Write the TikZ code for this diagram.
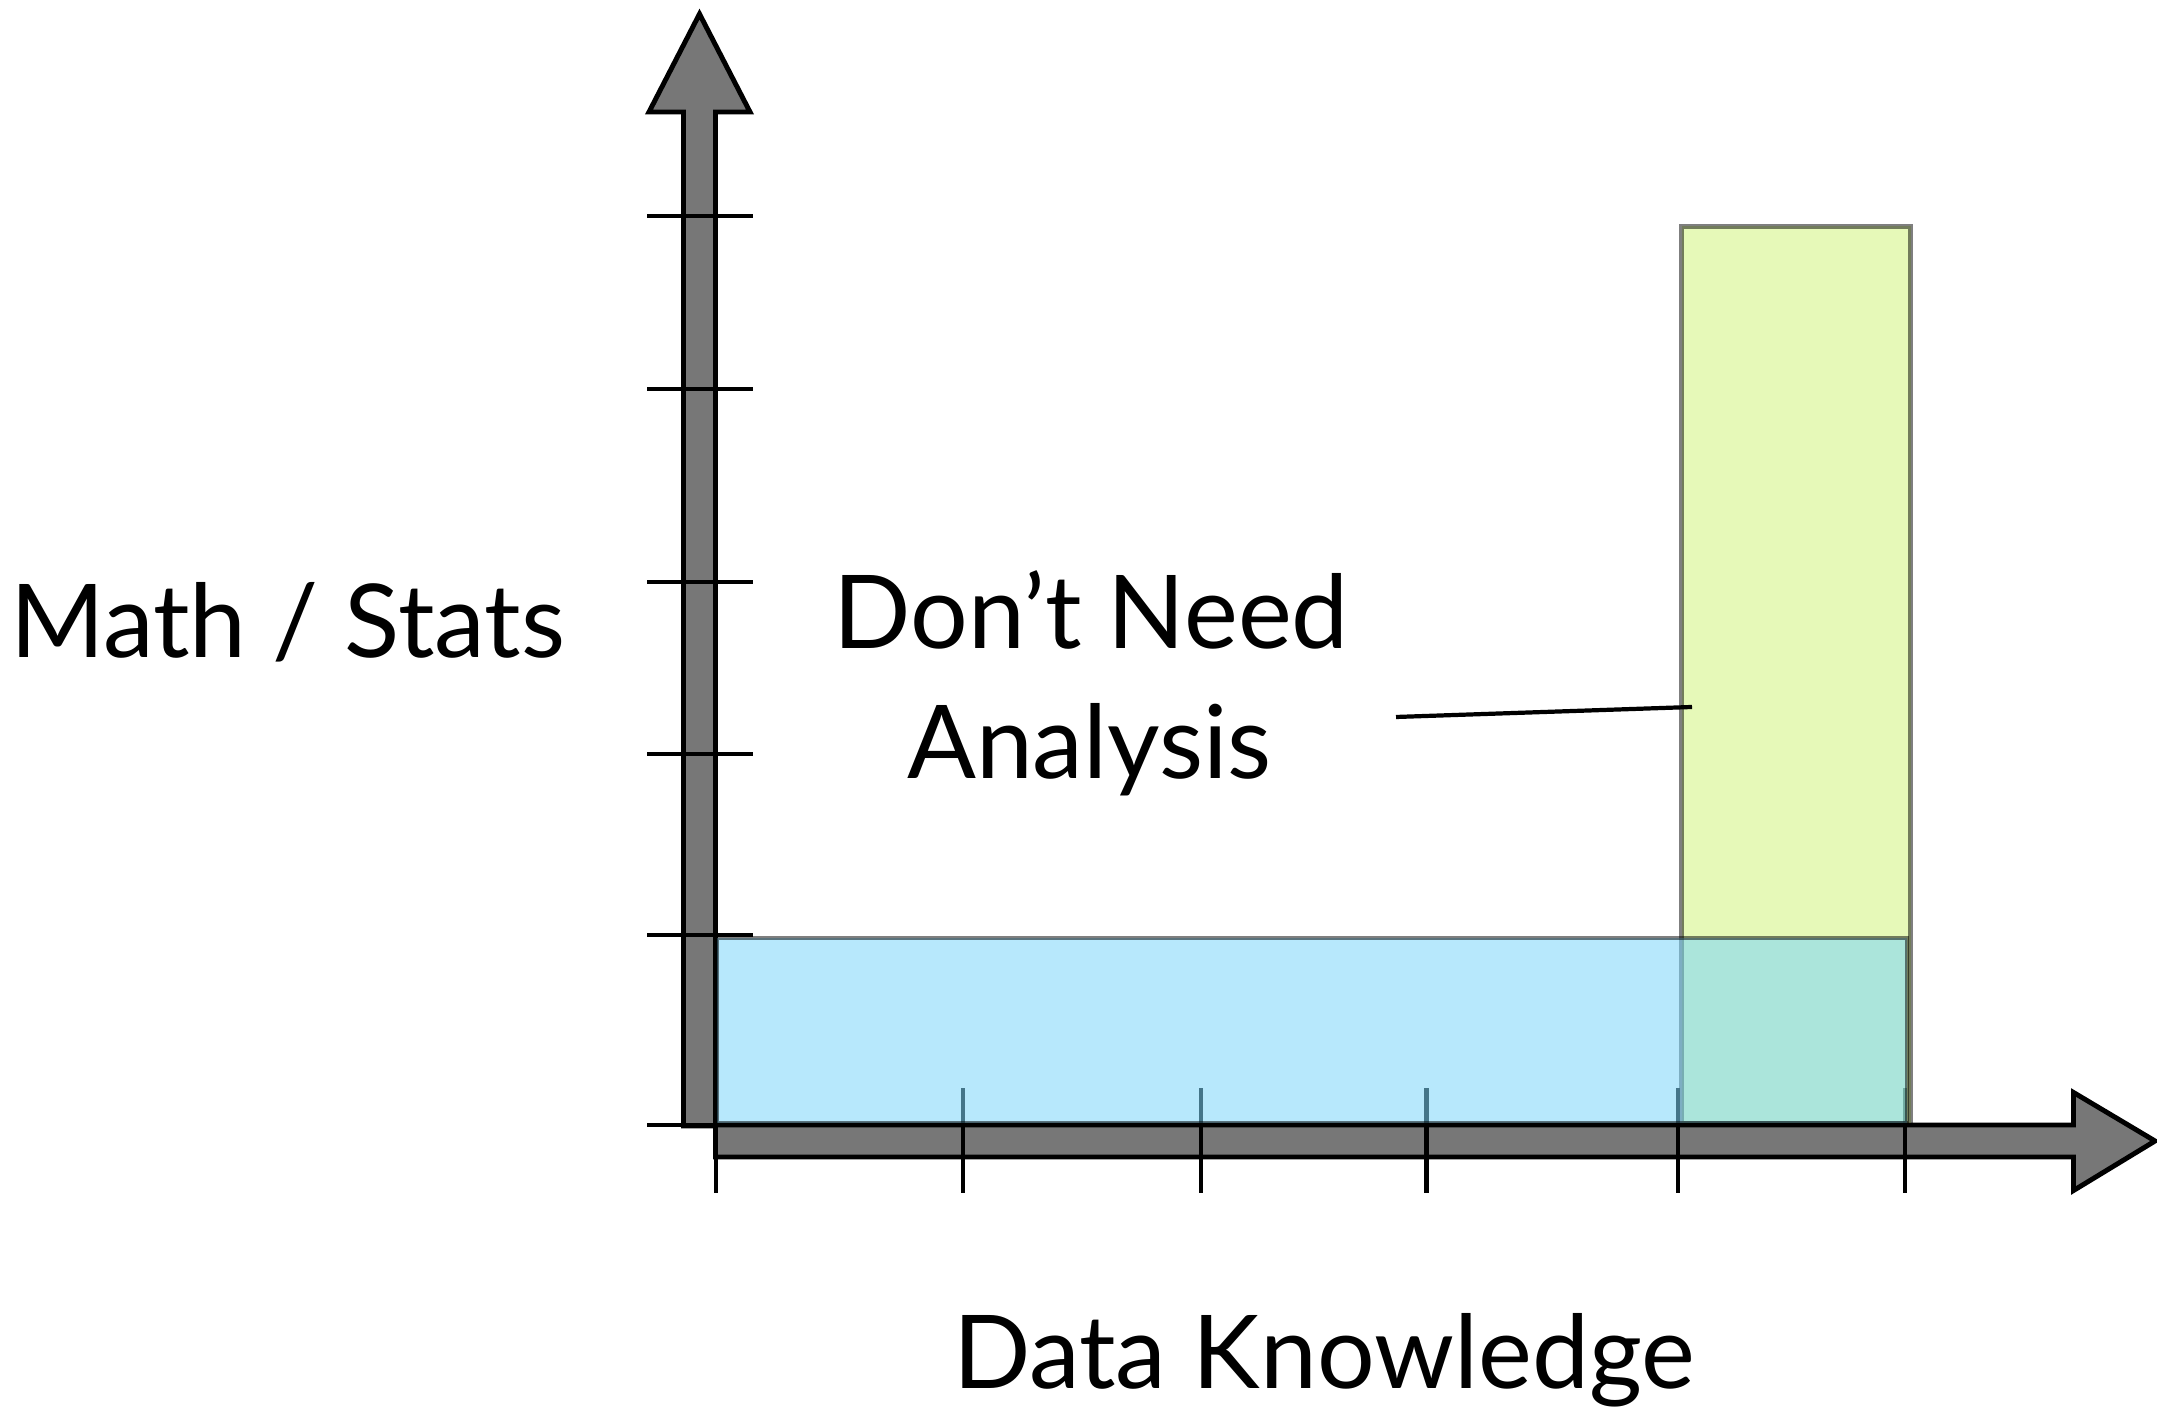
\documentclass[tikz,border=0pt]{standalone}
\usepackage{fontspec}
\setmainfont{Lato}
\usepackage{xcolor}
\usepackage{tikz}
\usetikzlibrary{arrows, shapes}
\definecolor{axisgray}{RGB}{119,119,119}
\definecolor{skyfill}{RGB}{124,214,250}
\definecolor{limefill}{RGB}{205,243,113}
\begin{document}
\begin{tikzpicture}
			\tikzstyle{every node} = [font = \fontsize{29}{35}\selectfont, anchor = base, inner sep = 0pt]
			\tikzstyle{axisarrow} = [draw, fill = axisgray, line width = 1.4pt, line join = miter]
			\tikzstyle{tick} = [draw, line width = 1.2pt]
			\tikzstyle{bar} = [draw = black, draw opacity = 0.5, line width = 1.4pt, fill opacity = 0.5]
				\useasboundingbox (0,0) rectangle (21.57,14.15);
				\path[axisarrow] (6.835,2.89)--
					(6.835,13.03)--
					(6.49,13.03)--
					(6.995,14.01)--
					(7.50,13.03)--
					(7.155,13.03)--
					(7.155,2.89)-- cycle;
				\path[axisarrow] (7.155,2.90)--
					(20.735,2.90)--
					(20.735,3.225)--
					(21.55,2.74)--
					(20.735,2.245)--
					(20.735,2.58)--
					(7.155,2.58)-- cycle;
				\foreach \y in {11.99, 10.26, 8.33, 6.61, 4.80, 2.90}
					\path[tick] (6.47,\y)-- (7.53,\y);
				\foreach \x in {7.16, 9.63, 12.01, 14.265, 16.78, 19.05}
					\path[tick] (\x,2.22)-- (\x,3.27);
				\path[bar, fill = limefill] (16.815,2.92) rectangle (19.105,11.885);
				\path[bar, fill = skyfill, fill opacity = 0.55] (7.17,2.92) rectangle (19.07,4.77);
				\node (mathstats) at (2.875,7.575) {Math / Stats};
				\node (dontneed) at (10.91,7.66) {Don’t Need};
				\node (analysis) at (10.895,6.364) {Analysis};
				\node (dataknow) at (13.24,0.26) {Data Knowledge};
				\coordinate (leadstart) at (13.96,6.98);
				\coordinate (leadend) at (16.92,7.08);
				\path[draw, line width = 1.2pt] (leadstart)-- (leadend);
		\end{tikzpicture}
\end{document}
